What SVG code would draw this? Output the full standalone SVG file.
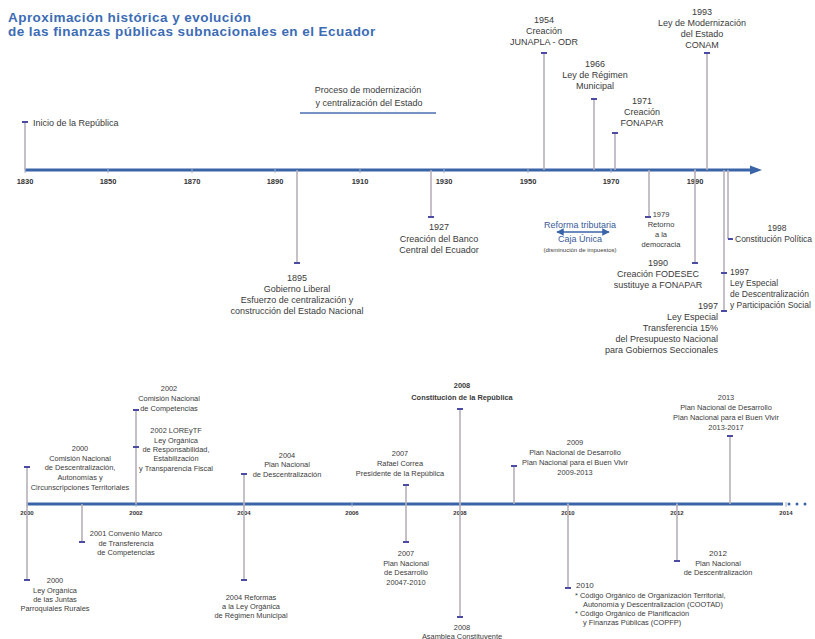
<svg xmlns="http://www.w3.org/2000/svg" width="815" height="639" viewBox="0 0 815 639">
<defs>
<style>
text{font-family:"Liberation Sans",Arial,sans-serif;fill:#3a3a3a;text-anchor:middle;dominant-baseline:central}
.t{font-size:9px}
.n{font-size:8.5px}
.s{font-size:7.4px}
.l{text-anchor:start}
.r{text-anchor:end}
.yr{font-weight:bold;font-size:7.5px;fill:#333}
.yb{font-weight:bold;font-size:6px;fill:#333}
.title{font-weight:bold;font-size:13.5px;letter-spacing:0.45px;fill:#3c6cb4;text-anchor:start}
.stem{stroke:#b7b0ba;stroke-width:1.6;fill:none}
.mk{stroke:#4b4ba3;stroke-width:2}
.axis{stroke:#3a64a8;stroke-width:3}
.tick{stroke:#9fb0cc;stroke-width:1}
</style>
<marker id="ah" viewBox="0 0 10 10" refX="9" refY="5" markerWidth="5" markerHeight="5" orient="auto-start-reverse">
<path d="M0,0 L10,5 L0,10 z" fill="#3a64a8"/>
</marker>
</defs>
<rect width="815" height="639" fill="#ffffff"/>

<g id="title">
<text class="title" x="8" y="17">Aproximación histórica y evolución</text>
<text class="title" x="8" y="31">de las finanzas públicas subnacionales en el Ecuador</text>
</g>

<g id="axes">
<line class="axis" x1="25" y1="170" x2="752" y2="170"/>
<polygon points="750,165.5 762,170 750,174.5" fill="#3a64a8"/>
<g class="tick">
<line x1="25" y1="168" x2="25" y2="173"/><line x1="108" y1="168" x2="108" y2="173"/><line x1="192" y1="168" x2="192" y2="173"/><line x1="275" y1="168" x2="275" y2="173"/><line x1="360" y1="168" x2="360" y2="173"/><line x1="444" y1="168" x2="444" y2="173"/><line x1="528" y1="168" x2="528" y2="173"/><line x1="611" y1="168" x2="611" y2="173"/><line x1="695" y1="168" x2="695" y2="173"/>
</g>
<text class="yr" x="25" y="181">1830</text>
<text class="yr" x="108" y="181">1850</text>
<text class="yr" x="192" y="181">1870</text>
<text class="yr" x="275" y="181">1890</text>
<text class="yr" x="360" y="181">1910</text>
<text class="yr" x="444" y="181">1930</text>
<text class="yr" x="528" y="181">1950</text>
<text class="yr" x="611" y="181">1970</text>
<text class="yr" x="695" y="181">1990</text>

<line class="axis" x1="27" y1="504" x2="783" y2="504"/>
<circle cx="789" cy="504" r="1.5" fill="#3a64a8"/>
<circle cx="797" cy="504" r="1.5" fill="#3a64a8"/>
<circle cx="805" cy="504" r="1.5" fill="#3a64a8"/>
<g class="tick">
<line x1="27" y1="502" x2="27" y2="507"/><line x1="136" y1="502" x2="136" y2="507"/><line x1="244" y1="502" x2="244" y2="507"/><line x1="352" y1="502" x2="352" y2="507"/><line x1="460" y1="502" x2="460" y2="507"/><line x1="568" y1="502" x2="568" y2="507"/><line x1="677" y1="502" x2="677" y2="507"/><line x1="786" y1="502" x2="786" y2="507"/>
</g>
<text class="yb" x="27" y="513">2000</text>
<text class="yb" x="136" y="513">2002</text>
<text class="yb" x="244" y="513">2004</text>
<text class="yb" x="352" y="513">2006</text>
<text class="yb" x="460" y="513">2008</text>
<text class="yb" x="568" y="513">2010</text>
<text class="yb" x="677" y="513">2012</text>
<text class="yb" x="786" y="513">2014</text>
</g>

<g id="connectors">
<line class="stem" x1="25" y1="122" x2="25" y2="170"/>
<line class="stem" x1="297" y1="170" x2="297" y2="263"/>
<line class="stem" x1="431" y1="170" x2="431" y2="217"/>
<line class="stem" x1="544" y1="53" x2="544" y2="170"/>
<line class="stem" x1="594" y1="99" x2="594" y2="170"/>
<line class="stem" x1="615" y1="133" x2="615" y2="170"/>
<line class="stem" x1="707" y1="53" x2="707" y2="170"/>
<line class="stem" x1="649" y1="170" x2="649" y2="217"/>
<line class="stem" x1="695" y1="170" x2="695" y2="263"/>
<line class="stem" x1="724" y1="170" x2="724" y2="311"/>
<line class="stem" x1="728" y1="170" x2="728" y2="239"/>
<line x1="557" y1="232" x2="609" y2="232" stroke="#3a64a8" stroke-width="1.5" marker-start="url(#ah)" marker-end="url(#ah)"/>
<line x1="300" y1="113" x2="436" y2="113" stroke="#4a6fb0" stroke-width="1.5"/>

<line class="stem" x1="27" y1="467" x2="27" y2="580"/>
<line class="stem" x1="82" y1="504" x2="82" y2="542"/>
<line class="stem" x1="136" y1="410" x2="136" y2="504"/>
<line class="stem" x1="244" y1="474" x2="244" y2="580"/>
<line class="stem" x1="406" y1="485" x2="406" y2="542"/>
<line class="stem" x1="460" y1="409" x2="460" y2="617"/>
<line class="stem" x1="514" y1="466" x2="514" y2="504"/>
<line class="stem" x1="568" y1="504" x2="568" y2="588"/>
<line class="stem" x1="677" y1="504" x2="677" y2="561"/>
<line class="stem" x1="730" y1="436" x2="730" y2="504"/>
</g>

<g id="n1830">
<line class="mk" x1="22" y1="122" x2="28" y2="122"/>
<text class="t l" x="33" y="123">Inicio de la República</text>
</g>
<g id="proceso">
<text class="t" x="368" y="90">Proceso de modernización</text>
<text class="t" x="369" y="103">y centralización del Estado</text>
</g>
<g id="n1895">
<line class="mk" x1="294" y1="263" x2="300" y2="263"/>
<text class="t" x="297" y="278">1895</text>
<text class="t" x="297" y="289">Gobierno Liberal</text>
<text class="t" x="297" y="300">Esfuerzo de centralización y</text>
<text class="t" x="297" y="311">construcción del Estado Nacional</text>
</g>
<g id="n1927">
<line class="mk" x1="428" y1="217" x2="434" y2="217"/>
<text class="t" x="439" y="227">1927</text>
<text class="t" x="439" y="239">Creación del Banco</text>
<text class="t" x="439" y="250">Central del Ecuador</text>
</g>
<g id="n1954">
<line class="mk" x1="541" y1="53" x2="547" y2="53"/>
<text class="t" x="544" y="20">1954</text>
<text class="t" x="544" y="31">Creación</text>
<text class="t" x="544" y="42">JUNAPLA - ODR</text>
</g>
<g id="n1966">
<line class="mk" x1="591" y1="99" x2="597" y2="99"/>
<text class="t" x="595" y="64">1966</text>
<text class="t" x="595" y="75">Ley de Régimen</text>
<text class="t" x="595" y="86">Municipal</text>
</g>
<g id="n1971">
<line class="mk" x1="612" y1="133" x2="618" y2="133"/>
<text class="t" x="642" y="101">1971</text>
<text class="t" x="642" y="112">Creación</text>
<text class="t" x="642" y="123">FONAPAR</text>
</g>
<g id="n1993">
<line class="mk" x1="704" y1="53" x2="710" y2="53"/>
<text class="t" x="702" y="12">1993</text>
<text class="t" x="702" y="23">Ley de Modernización</text>
<text class="t" x="702" y="34">del Estado</text>
<text class="t" x="702" y="45">CONAM</text>
</g>
<g id="reforma">
<text class="t" x="580" y="225" style="fill:#3a5a98">Reforma tributaria</text>
<text class="t" x="580" y="239" style="fill:#3a5a98">Caja Única</text>
<text x="580" y="250" style="font-size:6px">(disminución de impuestos)</text>
</g>
<g id="n1979">
<line class="mk" x1="645" y1="217" x2="651" y2="217"/>
<text x="661" y="214" style="font-size:7.5px">1979</text>
<text x="661" y="224" style="font-size:7.5px">Retorno</text>
<text x="661" y="234" style="font-size:7.5px">a la</text>
<text x="661" y="244" style="font-size:7.5px">democracia</text>
</g>
<g id="n1990">
<line class="mk" x1="692" y1="263" x2="698" y2="263"/>
<text class="t" x="658" y="263">1990</text>
<text class="t" x="658" y="274">Creación FODESEC</text>
<text class="t" x="658" y="285">sustituye a FONAPAR</text>
</g>
<g id="n1997a">
<line class="mk" x1="721" y1="273" x2="727" y2="273"/>
<text class="n l" x="730" y="272">1997</text>
<text class="n l" x="730" y="283">Ley Especial</text>
<text class="n l" x="730" y="294">de Descentralización</text>
<text class="n l" x="730" y="305">y Participación Social</text>
</g>
<g id="n1997b">
<line class="mk" x1="721" y1="311" x2="727" y2="311"/>
<text class="t r" x="718" y="306">1997</text>
<text class="t r" x="718" y="317">Ley Especial</text>
<text class="t r" x="718" y="328">Transferencia 15%</text>
<text class="t r" x="718" y="339">del Presupuesto Nacional</text>
<text class="t r" x="718" y="350">para Gobiernos Seccionales</text>
</g>
<g id="n1998">
<line class="mk" x1="728" y1="239" x2="733" y2="239"/>
<text class="n" x="777" y="228">1998</text>
<text class="n l" x="735" y="239">Constitución Política</text>
</g>

<g id="b2000a">
<line class="mk" x1="24" y1="467" x2="30" y2="467"/>
<text class="s" x="80" y="448">2000</text>
<text class="s" x="80" y="458">Comisión Nacional</text>
<text class="s" x="80" y="467">de Descentralización,</text>
<text class="s" x="80" y="477">Autonomías y</text>
<text class="s" x="80" y="487">Circunscripciones Territoriales</text>
</g>
<g id="b2000b">
<line class="mk" x1="24" y1="580" x2="30" y2="580"/>
<text class="s" x="55" y="580">2000</text>
<text class="s" x="55" y="590">Ley Orgánica</text>
<text class="s" x="55" y="599">de las Juntas</text>
<text class="s" x="55" y="608">Parroquiales Rurales</text>
</g>
<g id="b2001">
<line class="mk" x1="79" y1="542" x2="85" y2="542"/>
<text class="s" x="126" y="533">2001 Convenio Marco</text>
<text class="s" x="126" y="543">de Transferencia</text>
<text class="s" x="126" y="552">de Competencias</text>
</g>
<g id="b2002a">
<line class="mk" x1="133" y1="410" x2="139" y2="410"/>
<text class="s" x="169" y="388">2002</text>
<text class="s" x="169" y="398">Comisión Nacional</text>
<text class="s" x="169" y="408">de Competencias</text>
</g>
<g id="b2002b">
<line class="mk" x1="133" y1="447" x2="139" y2="447"/>
<text class="s" x="176" y="430">2002 LOREyTF</text>
<text class="s" x="176" y="440">Ley Orgánica</text>
<text class="s" x="176" y="449">de Responsabilidad,</text>
<text class="s" x="176" y="458">Estabilización</text>
<text class="s" x="176" y="468">y Transparencia Fiscal</text>
</g>
<g id="b2004a">
<line class="mk" x1="241" y1="474" x2="247" y2="474"/>
<text class="s" x="287" y="455">2004</text>
<text class="s" x="287" y="464">Plan Nacional</text>
<text class="s" x="287" y="474">de Descentralización</text>
</g>
<g id="b2004b">
<line class="mk" x1="241" y1="580" x2="247" y2="580"/>
<text class="s" x="251" y="597">2004 Reformas</text>
<text class="s" x="251" y="606">a la Ley Orgánica</text>
<text class="s" x="251" y="615">de Régimen Municipal</text>
</g>
<g id="b2007a">
<line class="mk" x1="403" y1="485" x2="409" y2="485"/>
<text class="s" x="400" y="453">2007</text>
<text class="s" x="400" y="463">Rafael Correa</text>
<text class="s" x="400" y="473">Presidente de la República</text>
</g>
<g id="b2007b">
<line class="mk" x1="403" y1="542" x2="409" y2="542"/>
<text class="s" x="406" y="553">2007</text>
<text class="s" x="406" y="563">Plan Nacional</text>
<text class="s" x="406" y="572">de Desarrollo</text>
<text class="s" x="406" y="582">20047-2010</text>
</g>
<g id="b2008a">
<line class="mk" x1="457" y1="409" x2="463" y2="409"/>
<text class="s" x="462" y="385" style="font-weight:bold">2008</text>
<text class="s" x="462" y="397" style="font-weight:bold">Constitución de la República</text>
</g>
<g id="b2008b">
<line class="mk" x1="457" y1="617" x2="463" y2="617"/>
<text class="s" x="462" y="627">2008</text>
<text class="s" x="462" y="636">Asamblea Constituyente</text>
</g>
<g id="b2009">
<line class="mk" x1="511" y1="466" x2="517" y2="466"/>
<text class="s" x="575" y="442">2009</text>
<text class="s" x="575" y="452">Plan Nacional de Desarrollo</text>
<text class="s" x="575" y="462">Plan Nacional para el Buen Vivir</text>
<text class="s" x="575" y="472">2009-2013</text>
</g>
<g id="b2010">
<line class="mk" x1="565" y1="588" x2="571" y2="588"/>
<text class="l" x="576" y="585" style="font-size:8px">2010</text>
<text class="s l" x="575" y="595">* Código Orgánico de Organización Territorial,</text>
<text class="s l" x="583" y="604">Autonomía y Descentralización (COOTAD)</text>
<text class="s l" x="575" y="613">* Código Orgánico de Planificación</text>
<text class="s l" x="583" y="622">y Finanzas Públicas (COPFP)</text>
</g>
<g id="b2012">
<line class="mk" x1="674" y1="561" x2="680" y2="561"/>
<text class="s" x="718" y="553" style="font-size:8px">2012</text>
<text class="s" x="718" y="563">Plan Nacional</text>
<text class="s" x="718" y="572">de Descentralización</text>
</g>
<g id="b2013">
<line class="mk" x1="727" y1="436" x2="733" y2="436"/>
<text class="s" x="726" y="397">2013</text>
<text class="s" x="726" y="407">Plan Nacional de Desarrollo</text>
<text class="s" x="726" y="417">Plan Nacional para el Buen Vivir</text>
<text class="s" x="726" y="427">2013-2017</text>
</g>
</svg>
